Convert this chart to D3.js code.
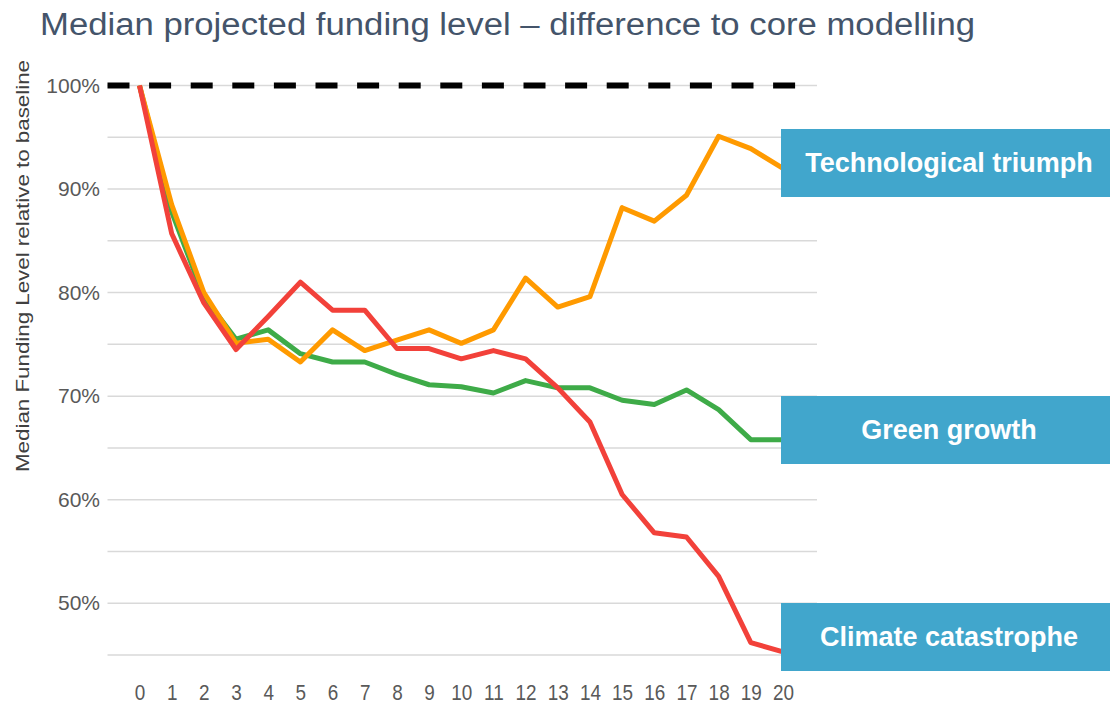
<!DOCTYPE html>
<html lang="en">
<head>
    <meta charset="UTF-8">
    <title>Median projected funding level</title>
    <script src="https://cdn.jsdelivr.net/npm/d3@7"></script>
</head>
<style>
    body { margin: 0; background: #fff; }
    svg { font-family: "Liberation Sans", Arial, sans-serif; }
</style>
<body>
<div id="output"></div>

<script>

// years into projection
var years = d3.range(0, 21);

// median funding level (% of baseline) by scenario
var techTriumph = [100, 88.5, 80.0, 75.1, 75.5, 73.3, 76.4, 74.4, 75.4, 76.4, 75.1,
                   76.4, 81.4, 78.6, 79.6, 88.2, 86.9, 89.4, 95.1, 93.9, 92.0];
var greenGrowth = [100, 87.8, 79.6, 75.5, 76.4, 74.1, 73.3, 73.3, 72.1, 71.1, 70.9,
                   70.3, 71.5, 70.8, 70.8, 69.6, 69.2, 70.6, 68.7, 65.8, 65.8];
var climateCat  = [100, 85.7, 79.0, 74.5, 77.7, 81.0, 78.3, 78.3, 74.6, 74.6, 73.6,
                   74.4, 73.6, 70.8, 67.5, 60.5, 56.8, 56.4, 52.6, 46.2, 45.3];

var baseline = 100;
var yTicks = [50, 60, 70, 80, 90, 100];
var gridTicks = [45, 50, 55, 60, 65, 70, 75, 80, 85, 90, 95, 100];

var series = [
    { name: "Green growth", values: greenGrowth, color: "#3eab48" },
    { name: "Technological triumph", values: techTriumph, color: "#ff9a00" },
    { name: "Climate catastrophe", values: climateCat, color: "#f2413a" }
];

// label boxes, in the order they sit down the right edge
var labels = [
    { name: "Technological triumph", top: 129, bottom: 197 },
    { name: "Green growth", top: 396, bottom: 464 },
    { name: "Climate catastrophe", top: 603, bottom: 671 }
];

var w = 1110;
var h = 706;

var svg = d3.select("#output")
        .append("svg")
        .attr("width", w)
        .attr("height", h);

var xScale = d3.scaleLinear()
        .domain([0, 20])
        .range([139.5, 783]);

var yScale = d3.scaleLinear()
        .domain([45, 100])
        .range([655, 85.5]);

var gridLeft = 107.5;
var gridRight = 817;

// title
svg.append("text")
        .attr("x", 40)
        .attr("y", 35)
        .attr("font-size", 31)
        .attr("fill", "#44546a")
        .attr("textLength", 935)
        .attr("lengthAdjust", "spacingAndGlyphs")
        .text("Median projected funding level \u2013 difference to core modelling");

// gridlines
svg.append("g").selectAll("line")
        .data(gridTicks)
        .enter()
        .append("line")
        .attr("x1", gridLeft)
        .attr("x2", gridRight)
        .attr("y1", function(d){ return yScale(d); })
        .attr("y2", function(d){ return yScale(d); })
        .attr("stroke", "#d9d9d9")
        .attr("stroke-width", 1.5);

// y axis
var yAxis = svg.append("g")
        .attr("transform", "translate(" + (gridLeft - 7.5) + ",0)")
        .call(d3.axisLeft(yScale)
            .tickValues(yTicks)
            .tickSize(0)
            .tickPadding(0)
            .tickFormat(function(d){ return d + "%"; }));
yAxis.select(".domain").remove();
yAxis.selectAll("text")
        .attr("font-size", 21)
        .attr("fill", "#595959")
        .attr("font-family", "Liberation Sans, Arial, sans-serif");

// x axis
var xAxis = svg.append("g")
        .attr("transform", "translate(0,685)")
        .call(d3.axisBottom(xScale)
            .tickValues(years)
            .tickSize(0)
            .tickPadding(0)
            .tickFormat(d3.format("d")));
xAxis.select(".domain").remove();
xAxis.selectAll("text")
        .attr("font-size", 21.5)
        .attr("fill", "#595959")
        .attr("font-family", "Liberation Sans, Arial, sans-serif")
        .attr("transform", "scale(0.88,1)");

// y axis title
svg.append("text")
        .attr("transform", "translate(29,266) rotate(-90)")
        .attr("text-anchor", "middle")
        .attr("font-size", 19)
        .attr("fill", "#404040")
        .attr("textLength", 412)
        .attr("lengthAdjust", "spacingAndGlyphs")
        .text("Median Funding Level relative to baseline");

// baseline dashed
svg.append("line")
        .attr("x1", gridLeft)
        .attr("x2", 797)
        .attr("y1", yScale(baseline))
        .attr("y2", yScale(baseline))
        .attr("stroke", "#000")
        .attr("stroke-width", 6)
        .attr("stroke-dasharray", "22,19.6");

// scenario lines
var lineGen = d3.line()
        .x(function(d, i){ return xScale(years[i]); })
        .y(function(d){ return yScale(d); });

svg.append("g").selectAll("path")
        .data(series)
        .enter()
        .append("path")
        .attr("d", function(d){ return lineGen(d.values); })
        .attr("fill", "none")
        .attr("stroke", function(d){ return d.color; })
        .attr("stroke-width", 5)
        .attr("stroke-linejoin", "round");

// label boxes
var box = svg.append("g").selectAll("g")
        .data(labels)
        .enter()
        .append("g");

box.append("rect")
        .attr("x", 781)
        .attr("y", function(d){ return d.top; })
        .attr("width", w - 781)
        .attr("height", function(d){ return d.bottom - d.top; })
        .attr("fill", "#41a6cc");

box.append("text")
        .attr("x", 949)
        .attr("y", function(d){ return (d.top + d.bottom) / 2; })
        .attr("dy", "0.35em")
        .attr("text-anchor", "middle")
        .attr("font-size", 27)
        .attr("font-weight", "bold")
        .attr("fill", "#fff")
        .text(function(d){ return d.name; });

</script>

</body>
</html>
